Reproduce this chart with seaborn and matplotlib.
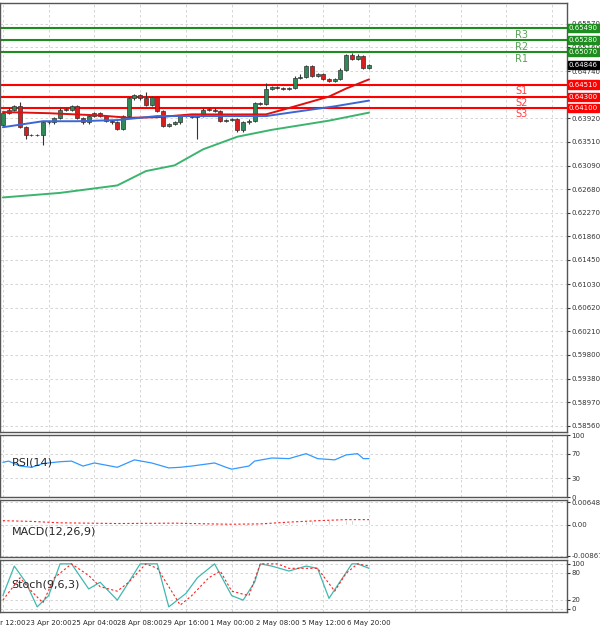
import numpy as np
import pandas as pd
import matplotlib
matplotlib.use("Agg")
import matplotlib.pyplot as plt
import seaborn as sns

closes = [0.64016,0.64072,0.64128,0.63765,0.63625,0.63625,0.63625,0.63848,0.63848,0.63932,
          0.64072,0.64072,0.64128,0.63932,0.63848,0.63960,0.64016,0.63960,0.63876,0.63848,
          0.63737,0.63960,0.64268,0.64324,0.64268,0.64156,0.64296,0.64044,0.63793,0.63820,
          0.63848,0.63960,0.63960,0.63950,0.63960,0.64072,0.64072,0.64044,0.63876,0.63893,
          0.63904,0.63709,0.63848,0.63876,0.64184,0.64173,0.64435,0.64463,0.64447,0.64435,
          0.64452,0.64631,0.64648,0.64827,0.64659,0.64687,0.64603,0.64575,0.64603,0.64771,
          0.65022,0.64955,0.65011,0.64799,0.64846]
first_open = 0.63800
upper_wick = [2,2,2,8,2,2,2,2,2,2, 2,2,2,2,2,2,2,2,2,2, 2,2,3,2,2,12,2,2,2,2,
              2,2,2,2,2,2,2,2,2,2, 2,2,2,3,2,2,10,2,2,2, 2,2,4,2,2,2,2,2,2,2, 2,3,3,2,2]
lower_wick = [2,2,2,2,6,2,2,17,2,2, 2,2,2,2,2,2,2,2,2,2, 2,2,2,2,2,2,2,2,2,2,
              2,2,2,2,39,2,2,2,2,2, 2,2,2,2,2,2,2,2,2,2, 2,2,2,2,2,2,2,2,2,2, 2,2,2,2,2]

ma_red_x = [0,8,17,22,27,33,40,46,50,57,60,64]
ma_red_v = [0.64030,0.64010,0.63970,0.63930,0.63940,0.63990,0.63988,0.63990,0.64100,0.64300,0.64440,0.64600]
ma_blue_x = [0,7,13,20,27,33,40,46,53,58,64]
ma_blue_v = [0.63765,0.63870,0.63870,0.63890,0.63960,0.63960,0.63960,0.63960,0.64060,0.64130,0.64230]
ma_green_x = [0,10,20,25,30,35,41,47,52,57,64]
ma_green_v = [0.62540,0.62620,0.62750,0.63000,0.63100,0.63380,0.63600,0.63720,0.63800,0.63880,0.64020]

levels = [0.65490,0.65280,0.65070,0.64510,0.64300,0.64100]
level_names = ["R3","R2","R1","S1","S2","S3"]
price_ticks = [0.65570,0.65160,0.64740,0.63920,0.63510,0.63090,0.62680,0.62270,0.61860,
               0.61450,0.61030,0.60620,0.60210,0.59800,0.59380,0.58970,0.58560]

rsi_x = [0,1,3,5,7,10,12,14,16,20,23,26,29,31,33,37,39,40,43,44,47,50,53,55,58,60,62,63,64]
rsi_v = [56,58,50,48,54,57,58,50,55,48,60,55,47,48,50,55,48,45,50,58,63,62,70,62,60,68,70,62,62]
stoch_x = [0,2,4,6,8,10,12,15,17,20,22,24,27,29,32,34,37,40,42,44,45,47,50,53,55,57,61,62,64]
stoch_v = [29,95,59,4,29,100,100,44,59,19,59,100,100,4,34,69,100,29,19,59,100,95,84,95,90,23,100,100,90]
sig_x = [0,3,5,7,9,12,15,17,20,22,25,27,31,33,36,38,40,43,45,48,50,53,55,58,60,62,64]
sig_v = [19,69,39,13,69,100,74,49,39,59,100,90,8,29,69,84,39,29,100,100,90,90,90,39,79,100,95]
macd_x = list(range(40, 65))
macd_hist = [0.0001,0.0001,0.0002,0.0002,0.0003,0.0004,0.0005,0.0006,0.0007,0.0008,0.0009,0.0010,0.0011,
             0.0012,0.0013,0.0013,0.0013,0.0013,0.0013,0.0013,0.0014,0.0015,0.0016,0.0016,0.0016]
sig_macd_x = [0,5,10,20,30,36,40,45,50,55,60,64]
sig_macd_v = [0.0012,0.0010,0.0006,0.0004,0.0005,0.0003,0.0002,0.0003,0.0008,0.0012,0.0015,0.0015]

xlabels = ["22 Apr 12:00","23 Apr 20:00","25 Apr 04:00","28 Apr 08:00","29 Apr 16:00",
           "1 May 00:00","2 May 08:00","5 May 12:00","6 May 20:00"]

sns.set_style("white")
fig = plt.figure(figsize=(6, 6.26), dpi=100)
L, R = 0.0, 0.945
ax = fig.add_axes([L, 0.310, R - L, 0.685])
ax_rsi = fig.add_axes([L, 0.206, R - L, 0.099])
ax_macd = fig.add_axes([L, 0.110, R - L, 0.091])
ax_st = fig.add_axes([L, 0.022, R - L, 0.083])
xmax = 98.6
ticks = list(range(0, 97, 8))
for a in (ax, ax_rsi, ax_macd, ax_st):
    a.set_xlim(-0.5, xmax)
    a.set_xticks(ticks)
    a.grid(True, ls=(0, (3, 3)), color="#cfcfcf", lw=0.6)
    a.yaxis.tick_right()
    a.tick_params(axis="y", labelsize=5, length=2, pad=1, colors="#333")
    a.tick_params(axis="x", length=2)
    for s in a.spines.values():
        s.set_color("#555"); s.set_linewidth(1)
    if a is not ax_st:
        a.set_xticklabels([])
ax_st.set_xticklabels(xlabels + [""] * (len(ticks) - len(xlabels)), fontsize=5)

opens = [first_open] + closes[:-1]
idx = np.arange(len(closes))
for i in idx:
    o, c = opens[i], closes[i]
    hi = max(o, c) + upper_wick[i] * 1e-4
    lo = min(o, c) - lower_wick[i] * 1e-4
    col = "#2e8b57" if c >= o else "#d81e1e"
    ax.vlines(i, lo, hi, color="#333", lw=0.8, zorder=3)
    ax.bar(i, max(abs(c - o), 0.00004), bottom=min(o, c), width=0.7,
           color=col, edgecolor="#333", lw=0.5, zorder=4)

sns.lineplot(x=ma_red_x, y=ma_red_v, ax=ax, color="#e01010", lw=1.4, zorder=5)
sns.lineplot(x=ma_blue_x, y=ma_blue_v, ax=ax, color="#3a66d6", lw=1.4, zorder=5)
sns.lineplot(x=ma_green_x, y=ma_green_v, ax=ax, color="#3cb46e", lw=1.4, zorder=5)

ax.set_ylim(0.5845, 0.6593)
ax.set_yticks(price_ticks)
ax.set_yticklabels([f"{v:.5f}" for v in price_ticks])
tr = ax.get_yaxis_transform()
for lv, nm in zip(levels, level_names):
    col = "#1e8c1e" if nm.startswith("R") else "#ff0000"
    ax.axhline(lv, color=col, lw=1.5, zorder=2)
    ax.text(1.003, lv, f"{lv:.5f}", transform=tr, fontsize=5, color="white", va="center",
            bbox=dict(boxstyle="square,pad=0.15", fc=col, ec=col), clip_on=False, zorder=10)
    ax.text(89.5, lv - 0.0011, nm, fontsize=7, color="#5aa05a" if nm.startswith("R") else "#ff4040",
            va="center")
ax.text(1.003, 0.64846, "0.64846", transform=tr, fontsize=5, color="white", va="center",
        bbox=dict(boxstyle="square,pad=0.15", fc="black", ec="black"), clip_on=False, zorder=10)
ax.set_xlabel(""); ax.set_ylabel("")

sns.lineplot(x=rsi_x, y=rsi_v, ax=ax_rsi, color="#3399ff", lw=0.9)
ax_rsi.set_ylim(0, 100); ax_rsi.set_yticks([0, 30, 70, 100])
ax_rsi.text(1.5, 55, "RSI(14)", fontsize=8, va="center")

ax_macd.bar(macd_x, macd_hist, width=0.25, color="#bbbbbb")
sns.lineplot(x=sig_macd_x, y=sig_macd_v, ax=ax_macd, color="#ff2020", lw=0.8, ls=(0, (2, 2)))
ax_macd.set_ylim(-0.0091, 0.0070)
ax_macd.set_yticks([-0.008677, 0.0, 0.006481])
ax_macd.set_yticklabels(["-0.008677", "0.00", "0.006481"])
ax_macd.text(1.5, -0.0018, "MACD(12,26,9)", fontsize=8, va="center")

sns.lineplot(x=stoch_x, y=stoch_v, ax=ax_st, color="#40b8b0", lw=0.9)
sns.lineplot(x=sig_x, y=sig_v, ax=ax_st, color="#ff2020", lw=0.8, ls=(0, (2, 2)))
ax_st.set_ylim(-8, 108); ax_st.set_yticks([0, 20, 80, 100])
ax_st.text(1.5, 55, "Stoch(9,6,3)", fontsize=8, va="center")
for a in (ax_rsi, ax_macd, ax_st):
    a.set_xlabel(""); a.set_ylabel("")

fig.savefig("out.png", dpi=100)
